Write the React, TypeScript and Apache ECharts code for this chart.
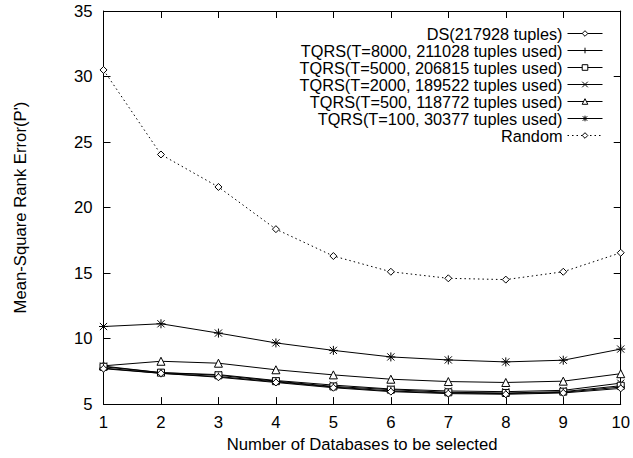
import React, { useEffect, useRef } from "react";
import * as echarts from "echarts";

// x positions: number of databases selected
const selectedCounts = [1, 2, 3, 4, 5, 6, 7, 8, 9, 10];

// Mean-square rank error per method
const dsFull = [7.7, 7.35, 7.05, 6.65, 6.25, 5.95, 5.8, 5.75, 5.85, 6.2];
const tqrs8000 = [7.75, 7.35, 7.1, 6.7, 6.3, 6.0, 5.85, 5.8, 5.9, 6.3];
const tqrs5000 = [7.85, 7.4, 7.2, 6.75, 6.35, 6.1, 5.9, 5.85, 5.95, 6.4];
const tqrs2000 = [7.9, 7.4, 7.25, 6.8, 6.45, 6.15, 6.0, 5.95, 6.05, 6.6];
const tqrs500 = [7.92, 8.27, 8.12, 7.62, 7.23, 6.9, 6.72, 6.65, 6.75, 7.32];
const tqrs100 = [10.92, 11.13, 10.42, 9.67, 9.1, 8.6, 8.37, 8.22, 8.35, 9.2];
const randomSel = [30.5, 24.05, 21.57, 18.35, 16.3, 15.1, 14.6, 14.5, 15.1, 16.55];

const seriesNames = [
  "DS(217928 tuples)",
  "TQRS(T=8000, 211028 tuples used)",
  "TQRS(T=5000, 206815 tuples used)",
  "TQRS(T=2000, 189522 tuples used)",
  "TQRS(T=500, 118772 tuples used)",
  "TQRS(T=100, 30377 tuples used)",
  "Random",
];

const FONT = "'Liberation Sans', Arial, Helvetica, sans-serif";
const FS = 16.7;

const SYM = {
  diamond: "path://M5,0L10,5L5,10L0,5Z",
  plus: "path://M5,0L5,10M0,5L10,5",
  square: "path://M0,0L10,0L10,10L0,10Z",
  cross: "path://M0,0L10,10M10,0L0,10",
  triangle: "path://M5,0L10,9L0,9Z",
  star: "path://M5,0L5,10M0,5L10,5M1,1L9,9M9,1L1,9",
};

export default function App() {
  const ref = useRef<HTMLDivElement>(null);

  useEffect(() => {
    if (!ref.current) return;
    const chart = echarts.init(ref.current, null, { renderer: "svg" });

    const datasets = [dsFull, tqrs8000, tqrs5000, tqrs2000, tqrs500, tqrs100, randomSel];
    const symbols = [SYM.diamond, SYM.plus, SYM.square, SYM.cross, SYM.triangle, SYM.star, SYM.diamond];
    const sizes = [7, 8, 7, 7, 8, 9, 7];

    const series = datasets.map((vals, i) => ({
      name: seriesNames[i],
      type: "line",
      data: vals.map((v, j) => [selectedCounts[j], v]),
      symbol: symbols[i],
      symbolSize: sizes[i],
      showSymbol: true,
      lineStyle: {
        color: "#000",
        width: 1,
        type: i === 6 ? [1.5, 3] : "solid",
      },
      itemStyle: { color: "#fff", borderColor: "#000", borderWidth: 1 },
      emphasis: { disabled: true },
      z: 10 - i,
    }));

    // one right-anchored legend per entry so the keys line up on the right
    const legends = seriesNames.map((name, i) => ({
      data: [name],
      right: 30,
      top: 25 + 17 * i,
      align: "right",
      orient: "vertical",
      padding: 0,
      itemWidth: 35,
      itemHeight: 7,
      selectedMode: false,
      textStyle: { fontFamily: FONT, fontSize: 16.3, color: "#000", lineHeight: 17 },
      itemStyle: { color: "#fff", borderColor: "#000", borderWidth: 1 },
      lineStyle: { color: "#000", width: 1, type: i === 6 ? [1.5, 3] : "solid" },
    }));

    const tick = { show: true, inside: true, length: 7, lineStyle: { color: "#000", width: 1 } };
    const line = { show: true, lineStyle: { color: "#000", width: 1 } };

    chart.setOption({
      animation: false,
      backgroundColor: "#fff",
      grid: { left: 103.5, right: 11.5, top: 11, bottom: 47, containLabel: false },
      legend: legends,
      xAxis: [
        {
          type: "value",
          position: "bottom",
          min: 1,
          max: 10,
          interval: 1,
          name: "Number of Databases to be selected",
          nameLocation: "middle",
          nameGap: 27,
          nameTextStyle: { fontFamily: FONT, fontSize: FS, color: "#000" },
          axisLine: line,
          axisTick: tick,
          axisLabel: { fontFamily: FONT, fontSize: FS, color: "#000", margin: 10 },
          splitLine: { show: false },
        },
        {
          type: "value",
          position: "top",
          min: 1,
          max: 10,
          interval: 1,
          axisLine: line,
          axisTick: tick,
          axisLabel: { show: false },
          splitLine: { show: false },
        },
      ],
      yAxis: [
        {
          type: "value",
          position: "left",
          min: 5,
          max: 35,
          interval: 5,
          name: "Mean-Square Rank Error(P')",
          nameLocation: "middle",
          nameGap: 75,
          nameTextStyle: { fontFamily: FONT, fontSize: FS, color: "#000" },
          axisLine: line,
          axisTick: tick,
          axisLabel: { fontFamily: FONT, fontSize: FS, color: "#000", margin: 11 },
          splitLine: { show: false },
        },
        {
          type: "value",
          position: "right",
          min: 5,
          max: 35,
          interval: 5,
          axisLine: line,
          axisTick: tick,
          axisLabel: { show: false },
          splitLine: { show: false },
        },
      ],
      series,
    });

    return () => chart.dispose();
  }, []);

  return (
    <div
      ref={ref}
      style={{ position: "fixed", left: 0, top: 0, width: 633, height: 458, background: "#fff" }}
    />
  );
}
